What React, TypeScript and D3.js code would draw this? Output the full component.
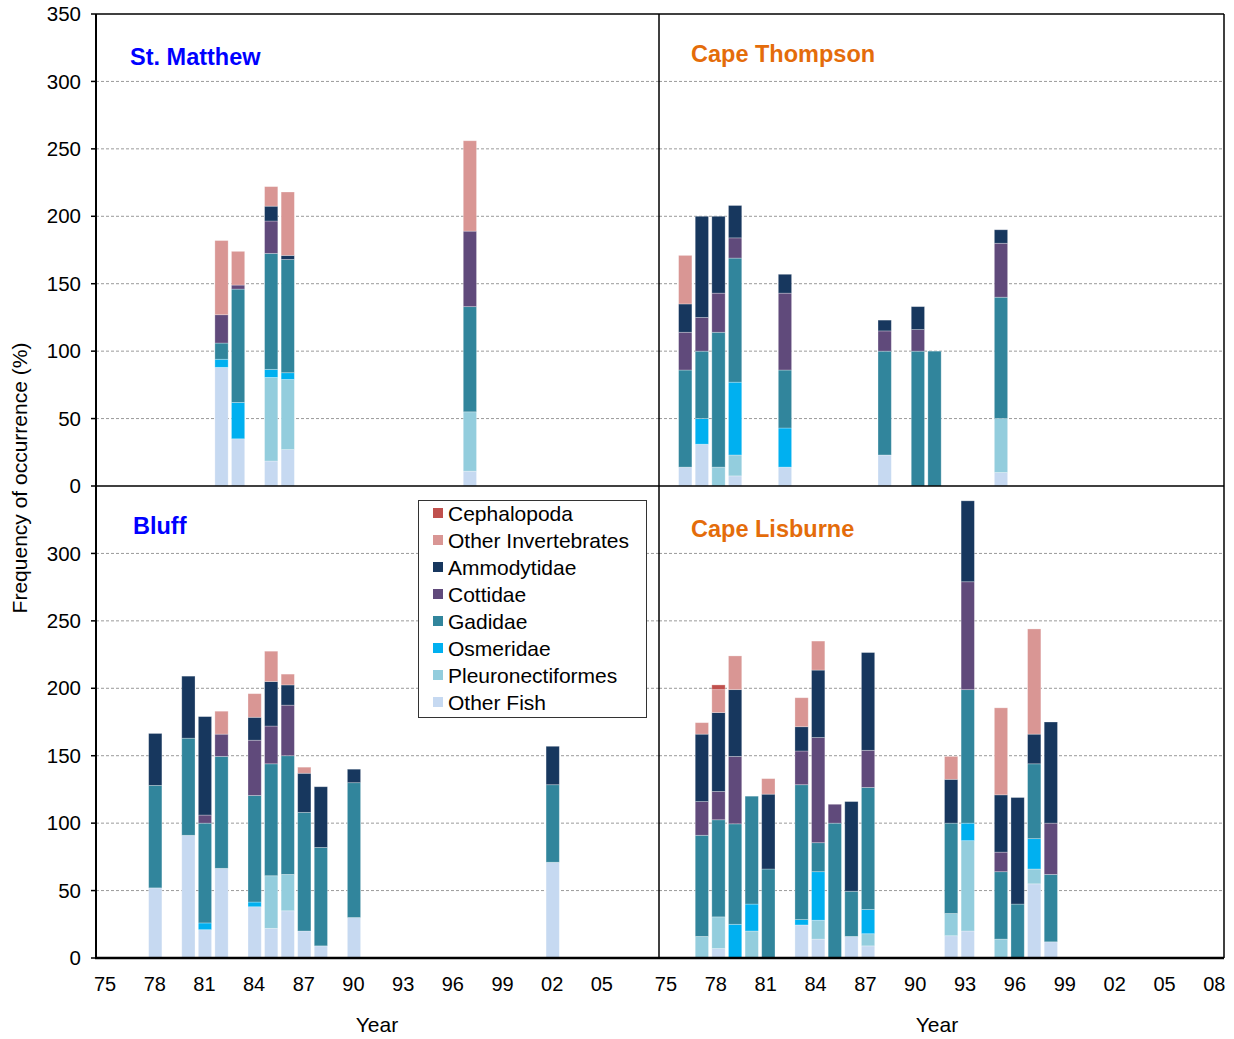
import React from "react";
import * as d3 from "d3";

// Prey categories in stacking order (bottom to top)
const categories = [
  "Other Fish",
  "Pleuronectiformes",
  "Osmeridae",
  "Gadidae",
  "Cottidae",
  "Ammodytidae",
  "Other Invertebrates",
  "Cephalopoda",
];
const categoryColors = [
  "#C6D9F1",
  "#93CDDD",
  "#00B0F0",
  "#31859C",
  "#604A7B",
  "#17375E",
  "#D99694",
  "#C0504D",
];

const yTicksTop = [0, 50, 100, 150, 200, 250, 300, 350];
const yTicksBottom = [0, 50, 100, 150, 200, 250, 300];
const xTickYearsLeft = [1975, 1978, 1981, 1984, 1987, 1990, 1993, 1996, 1999, 2002, 2005];
const xTickYearsRight = [1975, 1978, 1981, 1984, 1987, 1990, 1993, 1996, 1999, 2002, 2005, 2008];

// Each row: [year, Other Fish, Pleuronectiformes, Osmeridae, Gadidae, Cottidae, Ammodytidae, Other Invertebrates, Cephalopoda]
const stMatthew = [
  [82, 88, 0, 6, 12, 21, 0, 55, 0],
  [83, 35, 0, 27, 84, 3, 0, 25, 0],
  [85, 18.5, 62, 6, 86, 24, 11, 14.5, 0],
  [86, 27, 52, 5, 84, 0, 3, 47, 0],
  [97, 11, 44, 0, 78, 56, 0, 67, 0],
];
const capeThompson = [
  [76, 14, 0, 0, 72, 28, 21, 36, 0],
  [77, 31, 0, 19, 50, 25, 75, 0, 0],
  [78, 0, 14, 0, 100, 29, 57, 0, 0],
  [79, 7.5, 15.5, 54, 92, 15, 24, 0, 0],
  [82, 14, 0, 29, 43, 57, 14, 0, 0],
  [88, 23, 0, 0, 77, 15, 8, 0, 0],
  [90, 0, 0, 0, 100, 16, 17, 0, 0],
  [91, 0, 0, 0, 100, 0, 0, 0, 0],
  [95, 10, 40, 0, 90, 40, 10, 0, 0],
];
const bluff = [
  [78, 52, 0, 0, 76, 0, 38.5, 0, 0],
  [80, 91, 0, 0, 72, 0, 46, 0, 0],
  [81, 21, 0, 5, 74, 6, 73, 0, 0],
  [82, 66.5, 0, 0, 83, 16.5, 0, 17, 0],
  [84, 38, 0, 3.5, 79, 41, 17, 17.5, 0],
  [85, 22, 39, 0, 83, 28, 33, 22.5, 0],
  [86, 35, 27, 0, 88, 37.5, 15, 8, 0],
  [87, 20, 0, 0, 88, 0, 29, 4.5, 0],
  [88, 9, 0, 0, 73, 0, 45, 0, 0],
  [90, 30, 0, 0, 100, 0, 10, 0, 0],
  [2, 71, 0, 0, 57.5, 0, 28.5, 0, 0],
];
const capeLisburne = [
  [77, 0, 16, 0, 75, 25, 50, 8.5, 0],
  [78, 7, 23.5, 0, 72, 21, 58.5, 17, 3.5],
  [79, 0, 0, 25, 74.5, 50, 49.5, 25, 0],
  [80, 0, 20, 20, 80, 0, 0, 0, 0],
  [81, 0, 0, 0, 66, 0, 55.5, 11.5, 0],
  [83, 24.5, 0, 4, 100, 25, 18, 21.5, 0],
  [84, 14, 14, 36, 21.5, 78, 50, 21.5, 0],
  [85, 0, 0, 0, 100, 14, 0, 0, 0],
  [86, 16, 0, 0, 33.5, 0, 66.5, 0, 0],
  [87, 9, 9, 18, 90.5, 27.5, 72.5, 0, 0],
  [92, 16.5, 16.5, 0, 67, 0, 32.5, 17, 0],
  [93, 20, 67, 13, 99, 80, 60, 0, 0],
  [95, 0, 14, 0, 50, 14.5, 42.5, 64.5, 0],
  [96, 0, 0, 0, 40, 0, 79, 0, 0],
  [97, 55, 11, 22.5, 55.5, 0, 22, 78, 0],
  [98, 12, 0, 0, 50, 38, 75, 0, 0],
];

const FONT = "'Liberation Sans', Arial, Helvetica, sans-serif";

const W = 1234;
const H = 1039;
const LEFT = 96;
const MIDX = 659;
const RIGHT = 1224;
const TOP = 14;
const MIDY = 486;
const BOTTOM = 958;

const fullYear = (y: number) => (y < 50 ? 2000 + y : 1900 + y);
const yearLabel = (y: number) => String(y % 100).padStart(2, "0");

type PanelProps = {
  x0: number;
  x1: number;
  y0: number;
  y1: number;
  rows: number[][];
  title: string;
  titleColor: string;
  titleX: number;
  titleY: number;
};

function Panel({ x0, x1, y0, y1, rows, title, titleColor, titleX, titleY }: PanelProps) {
  const x = d3.scaleLinear().domain([1974.42, 2008.42]).range([x0, x1]);
  const y = d3.scaleLinear().domain([0, 350]).range([y1, y0]);
  const step = (x1 - x0) / 34;
  const bw = step * 0.8;

  const data = rows.map((r) => {
    const o: any = { year: fullYear(r[0]) };
    categories.forEach((c, i) => (o[c] = r[i + 1]));
    return o;
  });
  const series = d3.stack<any>().keys(categories)(data);

  return (
    <g>
      {[50, 100, 150, 200, 250, 300].map((t) => (
        <line
          key={t}
          x1={x0}
          x2={x1}
          y1={y(t)}
          y2={y(t)}
          stroke="#9a9a9a"
          strokeWidth={1}
          strokeDasharray="3,2"
        />
      ))}
      {series.map((s, si) => (
        <g key={s.key} fill={categoryColors[si]}>
          {s.map((d, di) =>
            d[1] - d[0] > 0 ? (
              <rect
                key={di}
                x={x(d.data.year) - bw / 2}
                y={y(d[1])}
                width={bw}
                height={y(d[0]) - y(d[1])}
                stroke="rgba(255,255,255,0.35)"
                strokeWidth={0.8}
              />
            ) : null
          )}
        </g>
      ))}
      <text
        x={titleX}
        y={titleY}
        fill={titleColor}
        fontFamily={FONT}
        fontWeight="bold"
        fontSize={23.5}
      >
        {title}
      </text>
    </g>
  );
}

export default function App() {
  const yTop = d3.scaleLinear().domain([0, 350]).range([MIDY, TOP]);
  const yBot = d3.scaleLinear().domain([0, 350]).range([BOTTOM, MIDY]);
  const xLeft = d3.scaleLinear().domain([1974.45, 2008.45]).range([LEFT, MIDX]);
  const xRight = d3.scaleLinear().domain([1974.58, 2008.58]).range([MIDX, RIGHT]);
  const legendItems = categories.map((c, i) => ({ name: c, color: categoryColors[i] })).reverse();

  return (
    <svg
      width={W}
      height={H}
      style={{ position: "absolute", left: 0, top: 0, background: "#fff" }}
      fontFamily={FONT}
    >
      <rect x={0} y={0} width={W} height={H} fill="#fff" />

      <Panel x0={LEFT} x1={MIDX} y0={TOP} y1={MIDY} rows={stMatthew} title="St. Matthew" titleColor="#0000FF" titleX={130} titleY={65} />
      <Panel x0={MIDX} x1={RIGHT} y0={TOP} y1={MIDY} rows={capeThompson} title="Cape Thompson" titleColor="#E46C0A" titleX={691} titleY={62} />
      <Panel x0={LEFT} x1={MIDX} y0={MIDY} y1={BOTTOM} rows={bluff} title="Bluff" titleColor="#0000FF" titleX={133} titleY={534} />
      <Panel x0={MIDX} x1={RIGHT} y0={MIDY} y1={BOTTOM} rows={capeLisburne} title="Cape Lisburne" titleColor="#E46C0A" titleX={691} titleY={537} />

      {/* frame lines */}
      <line x1={LEFT} x2={RIGHT} y1={TOP} y2={TOP} stroke="#000" strokeWidth={1.5} />
      <line x1={LEFT} x2={RIGHT} y1={MIDY} y2={MIDY} stroke="#000" strokeWidth={1.5} />
      <line x1={RIGHT} x2={RIGHT} y1={TOP} y2={BOTTOM} stroke="#000" strokeWidth={1.5} />
      <line x1={MIDX} x2={MIDX} y1={TOP} y2={BOTTOM} stroke="#000" strokeWidth={1.5} />
      <line x1={LEFT} x2={LEFT} y1={TOP} y2={BOTTOM + 1} stroke="#000" strokeWidth={2} />
      <line x1={LEFT - 1} x2={RIGHT} y1={BOTTOM} y2={BOTTOM} stroke="#000" strokeWidth={2.5} />

      {/* y axes */}
      {yTicksTop.map((t) => (
        <g key={"t" + t}>
          <line x1={LEFT - 5} x2={LEFT} y1={yTop(t)} y2={yTop(t)} stroke="#000" strokeWidth={1.5} />
          <text x={81} y={yTop(t)} dy="0.35em" textAnchor="end" fontSize={20.5} fill="#000">
            {t}
          </text>
        </g>
      ))}
      {yTicksBottom.map((t) => (
        <g key={"b" + t}>
          <line x1={LEFT - 5} x2={LEFT} y1={yBot(t)} y2={yBot(t)} stroke="#000" strokeWidth={1.5} />
          <text x={81} y={yBot(t)} dy="0.35em" textAnchor="end" fontSize={20.5} fill="#000">
            {t}
          </text>
        </g>
      ))}

      {/* x axes */}
      {xTickYearsLeft.map((yr) => (
        <text key={"xl" + yr} x={xLeft(yr)} y={984} dy="0.35em" textAnchor="middle" fontSize={20} fill="#000">
          {yearLabel(yr)}
        </text>
      ))}
      {xTickYearsRight.map((yr) => (
        <text key={"xr" + yr} x={xRight(yr)} y={984} dy="0.35em" textAnchor="middle" fontSize={20} fill="#000">
          {yearLabel(yr)}
        </text>
      ))}
      <text x={377} y={1025} dy="0.35em" textAnchor="middle" fontSize={21} fill="#000">
        Year
      </text>
      <text x={937} y={1025} dy="0.35em" textAnchor="middle" fontSize={21} fill="#000">
        Year
      </text>
      <text
        transform="translate(20,478) rotate(-90)"
        textAnchor="middle"
        dy="0.35em"
        fontSize={21}
        fill="#000"
      >
        Frequency of occurrence (%)
      </text>

      {/* legend */}
      <g>
        <rect x={418.5} y={500.5} width={228} height={217} fill="#fff" stroke="#333" strokeWidth={1} />
        {legendItems.map((it, i) => (
          <g key={it.name} transform={`translate(0,${513 + i * 27})`}>
            <rect x={433} y={-5} width={10} height={10} fill={it.color} />
            <text x={448} y={0} dy="0.36em" fontSize={21} fill="#000">
              {it.name}
            </text>
          </g>
        ))}
      </g>
    </svg>
  );
}
